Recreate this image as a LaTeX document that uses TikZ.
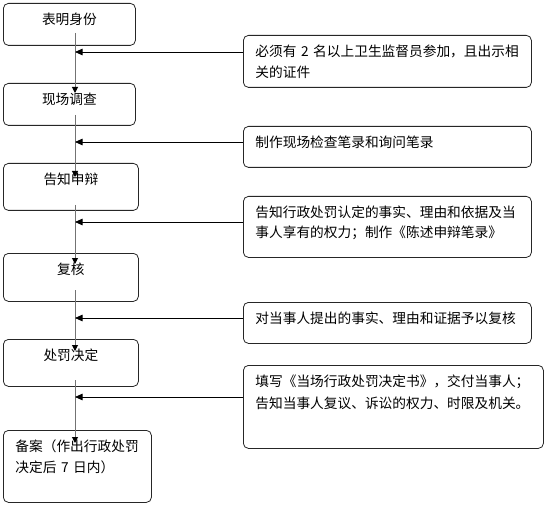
\documentclass[tikz,border=0pt]{standalone}
\usepackage{fontspec}
\setmainfont{Noto Sans CJK SC}
\usetikzlibrary{arrows.meta}

\begin{document}
\begin{tikzpicture}[x=1pt,y=-1pt,font=\fontsize{13.7pt}{21pt}\selectfont,
  stage box/.style={draw=black!85,line width=0.8pt,rounded corners=5pt,anchor=north west,inner xsep=12pt,inner ysep=0pt,text height=21.5pt},
  note box/.style={stage box,align=left},
  flow/.style={-{Triangle[length=6pt,width=6pt,color=black]},line width=1pt,black!55},
  feed/.style={-{Triangle[length=7.5pt,width=6.5pt]},line width=0.8pt,black}]
\useasboundingbox (0,0) rectangle (546,505);

% Steps on the left
\node[stage box,minimum width=132pt,text depth=20.5pt] (shenfen) at (3,3) {表明身份};
\node[stage box,minimum width=132pt,text depth=20.5pt] (diaocha) at (3,83) {现场调查};
\node[stage box,minimum width=135pt,text depth=25.5pt] (shenbian) at (3,163) {告知申辩};
\node[stage box,minimum width=135pt,text depth=26.5pt] (fuhe) at (3,253) {复核};
\node[stage box,minimum width=135pt,text depth=25.5pt] (jueding) at (3,339) {处罚决定};
\node[note box,text width=124pt,text depth=50.5pt] (beian) at (3,430) {备案（作出行政处罚\\决定后 7 日内）};

% Notes on the right
\node[note box,text width=264pt,text depth=30.5pt] (zhengjian) at (243,35) {必须有 2 名以上卫生监督员参加，且出示相\\关的证件};
\node[note box,text width=264pt,text depth=19.5pt] (bilu) at (243,126) {制作现场检查笔录和询问笔录};
\node[note box,text width=264pt,text depth=39.5pt] (quanli) at (243,196) {告知行政处罚认定的事实、理由和依据及当\\[-1pt]事人享有的权力；制作《陈述申辩笔录》};
\node[note box,text width=264pt,text depth=19.5pt] (hezhun) at (243,302) {对当事人提出的事实、理由和证据予以复核};
\node[note box,text width=276pt,text depth=61.5pt] (jiaofu) at (243,365) {填写《当场行政处罚决定书》，交付当事人；\\[1pt]告知当事人复议、诉讼的权力、时限及机关。};

% Points on the spine
\coordinate (out1) at (75,33);  \coordinate (in2) at (75,93);
\coordinate (out2) at (75,115); \coordinate (in3) at (75,177);
\coordinate (out3) at (75,205); \coordinate (in4) at (75,264);
\coordinate (out4) at (75,290); \coordinate (in5) at (75,351);
\coordinate (out5) at (75,380); \coordinate (in6) at (75,443);
\coordinate (hit1) at (75,52);
\coordinate (hit2) at (75,142);
\coordinate (hit3) at (75,222);
\coordinate (hit4) at (75,318);
\coordinate (hit5) at (75,397);

% Draw spine
\draw[flow] (out1) -- (in2);
\draw[flow] (out2) -- (in3);
\draw[flow] (out3) -- (in4);
\draw[flow] (out4) -- (in5);
\draw[flow] (out5) -- (in6);

% Draw feeds
\draw[feed] (zhengjian.west |- hit1) -- (hit1);
\draw[feed] (bilu.west |- hit2) -- (hit2);
\draw[feed] (quanli.west |- hit3) -- (hit3);
\draw[feed] (hezhun.west |- hit4) -- (hit4);
\draw[feed] (jiaofu.west |- hit5) -- (hit5);

\end{tikzpicture}
\end{document}
